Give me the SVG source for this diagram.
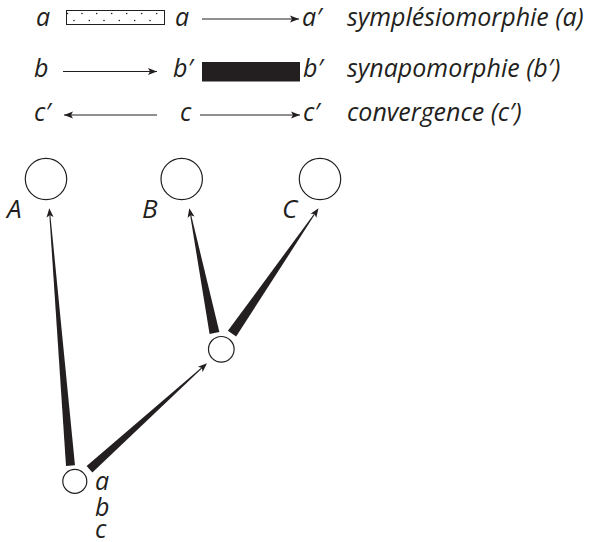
<svg xmlns="http://www.w3.org/2000/svg" width="595" height="542" viewBox="0 0 595 542">
<style>
text{font-family:"Open Sans","Noto Sans","DejaVu Sans",sans-serif;font-style:italic;font-size:25px;fill:#231f20}
.big{font-size:26px}
.ln{stroke:#231f20;stroke-width:1;fill:none}
.nd{fill:#fff;stroke:#231f20;stroke-width:1.2}
.wf{fill:#231f20}
.dot{fill:#231f20}
</style>
<defs>
<marker id="ah" markerUnits="userSpaceOnUse" markerWidth="12" markerHeight="10" viewBox="-10 -5 12 10" refX="0" refY="0" orient="auto">
<path d="M0,0 L-9,-3.5 L-7,0 L-9,3.5 Z" fill="#231f20"/>
</marker>
<path id="head" d="M0,0 L9,-3.5 L7,0 L9,3.5 Z"/>
</defs>
<g id="legend">
<g id="row-a">
<text x="36" y="26">a</text>
<rect x="66.5" y="10.5" width="98" height="14" fill="#fff" stroke="#231f20" stroke-width="1"/>
<g class="dot">
<circle cx="67.5" cy="13.5" r="0.8"/><circle cx="82" cy="13.5" r="0.8"/><circle cx="96.7" cy="13.5" r="0.8"/><circle cx="111.7" cy="13.5" r="0.8"/><circle cx="126.7" cy="13.5" r="0.8"/><circle cx="141.7" cy="13.5" r="0.8"/><circle cx="156.7" cy="13.5" r="0.8"/>
<circle cx="74" cy="20.5" r="0.8"/><circle cx="89.3" cy="20.5" r="0.8"/><circle cx="104" cy="20.5" r="0.8"/><circle cx="119.3" cy="20.5" r="0.8"/><circle cx="134.7" cy="20.5" r="0.8"/><circle cx="150" cy="20.5" r="0.8"/>
</g>
<text x="175" y="26">a</text>
<line class="ln" x1="202" y1="19" x2="299" y2="19" marker-end="url(#ah)"/>
<text x="302" y="26">a′</text>
<text x="347" y="26">symplésiomorphie (a)</text>
</g>
<g id="row-b">
<text x="34" y="77">b</text>
<line class="ln" x1="63" y1="71.5" x2="157" y2="71.5" marker-end="url(#ah)"/>
<text x="173" y="77">b′</text>
<rect x="202" y="62" width="98" height="19.5" fill="#231f20"/>
<text x="303" y="77">b′</text>
<text x="347" y="77">synapomorphie (b′)</text>
</g>
<g id="row-c">
<text x="34" y="121">c′</text>
<line class="ln" x1="157" y1="115" x2="64" y2="115" marker-end="url(#ah)"/>
<text x="180" y="121">c</text>
<line class="ln" x1="200" y1="115" x2="300" y2="115" marker-end="url(#ah)"/>
<text x="303" y="121">c′</text>
<text x="347" y="121">convergence (c′)</text>
</g>
</g>
<g id="connectors" class="wf">
<g id="edge-root-A" transform="translate(49.3,208.3) rotate(85.29)">
<use href="#head"/><path d="M7,-0.5 L258.1,-4.5 L258.1,4.5 L7,0.5 Z"/>
</g>
<g id="edge-root-mid" transform="translate(207,363.3) rotate(137.97)">
<use href="#head"/><path d="M7,-0.5 L158.2,-4.3 L158.2,4.3 L7,0.5 Z"/>
</g>
<g id="edge-mid-B" transform="translate(189.3,208.3) rotate(78.58)">
<use href="#head"/><path d="M7,-0.5 L127.2,-5 L127.2,5 L7,0.5 Z"/>
</g>
<g id="edge-mid-C" transform="translate(318.5,208.3) rotate(124.6)">
<use href="#head"/><path d="M7,-0.5 L152.3,-5 L152.3,5 L7,0.5 Z"/>
</g>
</g>
<g id="node-A"><circle class="nd" cx="46" cy="179" r="20.7"/><text class="big" x="7" y="218">A</text></g>
<g id="node-B"><circle class="nd" cx="181.7" cy="179" r="20.7"/><text class="big" x="142" y="218">B</text></g>
<g id="node-C"><circle class="nd" cx="320" cy="179" r="20.7"/><text class="big" x="282" y="218">C</text></g>
<g id="node-mid"><circle class="nd" cx="221.3" cy="349.3" r="12.8"/></g>
<g id="node-root"><circle class="nd" cx="74.8" cy="481.3" r="12"/>
<text x="95" y="490">a</text><text x="95" y="516">b</text><text x="95" y="538">c</text></g>
</svg>
